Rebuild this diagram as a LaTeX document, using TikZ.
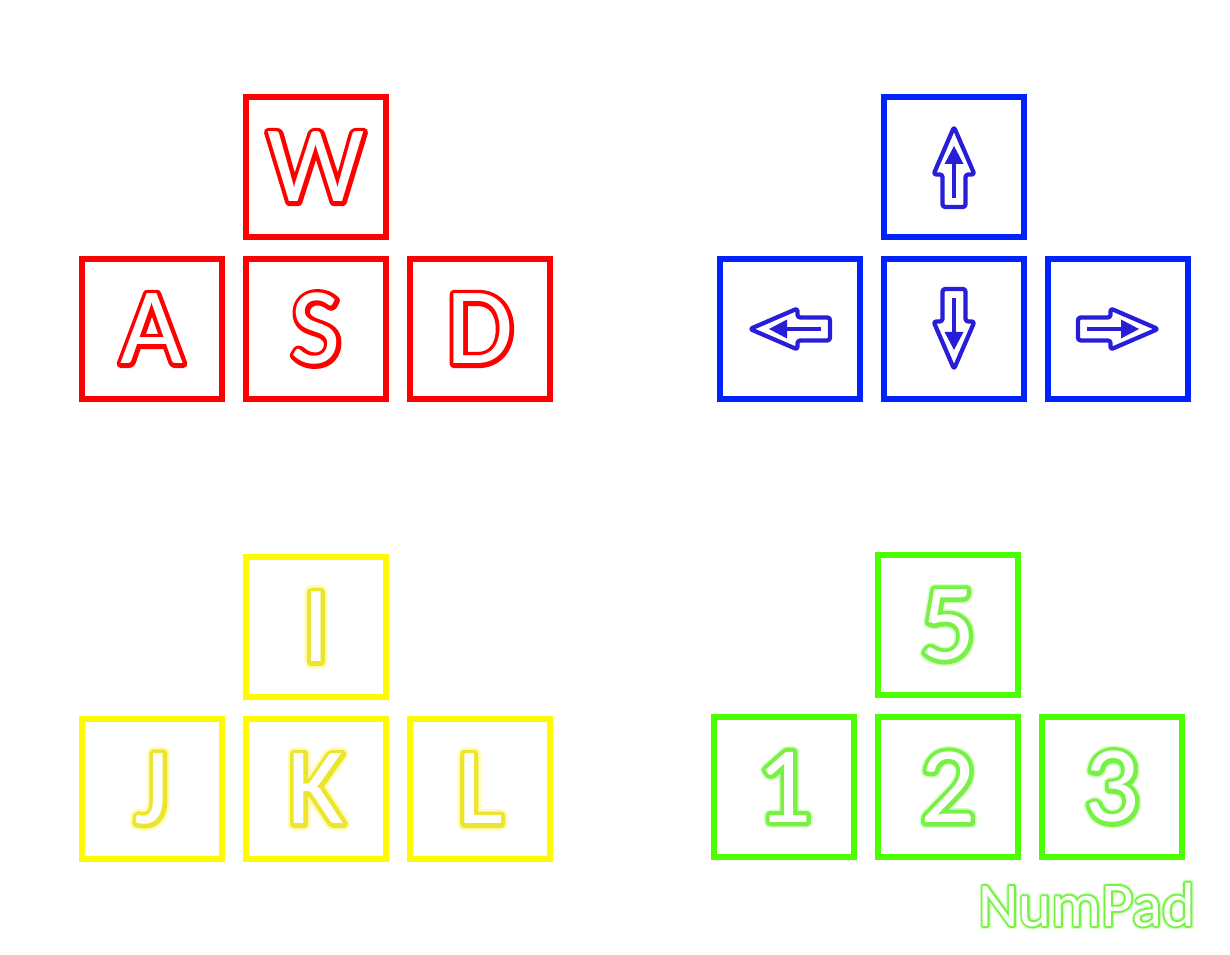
\documentclass[tikz,border=0pt]{standalone}
\usepackage{fontspec}
\usetikzlibrary{positioning}

\newfontfamily\keyfont{Carlito}

\definecolor{wasdred}{RGB}{255,0,0}
\definecolor{arrowblue}{RGB}{0,34,255}
\definecolor{arrowink}{RGB}{40,30,215}
\definecolor{ijklyellow}{RGB}{255,250,0}
\definecolor{ijklink}{RGB}{236,228,45}
\definecolor{ijklglow}{RGB}{255,252,185}
\definecolor{numgreen}{RGB}{76,255,0}
\definecolor{numink}{RGB}{120,240,70}
\definecolor{numglow}{RGB}{215,255,200}

% glyphs stroked (fill+stroke) in a colour, then the plain glyph in white on top
\newcommand{\strokedtext}[3]{\rlap{\textcolor{#2}{\special{pdf:literal direct 2 Tr #1 w 1 j 0 J}#3\special{pdf:literal direct 0 Tr}}}}
\newcommand{\hollowkey}[3][4.8]{\strokedtext{#1}{#2}{#3}\textcolor{white}{#3}}
\newcommand{\glowkey}[5]{\strokedtext{#1}{#4}{#5}\hollowkey[#2]{#3}{#5}}

\begin{document}
\begin{tikzpicture}[
    node distance=0.32cm and 0.36cm,
    key/.style={draw,line width=0.12cm,minimum size=2.8cm,inner sep=0pt,
      font=\keyfont\fontsize{62}{62}\selectfont},
    arrowbody/.style={draw=arrowink,line width=0.085cm,rounded corners=1.5pt,line join=round},
    arrowshaft/.style={draw=arrowink,line width=0.09cm}
  ]
  \useasboundingbox (0,0) rectangle (24.6,19.08);

  % WASD
  \node (W) [key,draw=wasdred] at (6.32,15.74) {\hollowkey{wasdred}{W}};
  \node (S) [key,draw=wasdred,below=of W] {\hollowkey{wasdred}{S}};
  \node (A) [key,draw=wasdred,left=of S]  {\hollowkey{wasdred}{A}};
  \node (D) [key,draw=wasdred,right=of S] {\hollowkey{wasdred}{D}};

  % arrow keys
  \node (Up)    [key,draw=arrowblue] at (19.08,15.74) {};
  \node (Down)  [key,draw=arrowblue,below=of Up] {};
  \node (Left)  [key,draw=arrowblue,left=of Down] {};
  \node (Right) [key,draw=arrowblue,right=of Down] {};
  \foreach \k/\r in {Up/0,Left/90,Down/180,Right/-90}{
    \begin{scope}[shift={(\k.center)},rotate=\r]
      \draw[arrowbody] (0,0.80) -- (0.41,-0.15) -- (0.23,-0.15) -- (0.23,-0.80)
        -- (-0.23,-0.80) -- (-0.23,-0.15) -- (-0.41,-0.15) -- cycle;
      \draw[arrowshaft] (0,-0.62) -- (0,0.10);
      \fill[arrowink] (0,0.42) -- (0.19,0.06) -- (-0.19,0.06) -- cycle;
    \end{scope}
  }

  % IJKL
  \node (I) [key,draw=ijklyellow] at (6.32,6.54) {\glowkey{7.6}{4.8}{ijklink}{ijklglow}{I}};
  \node (K) [key,draw=ijklyellow,below=of I] {\glowkey{7.6}{4.8}{ijklink}{ijklglow}{K}};
  \node (J) [key,draw=ijklyellow,left=of K]  {\glowkey{7.6}{4.8}{ijklink}{ijklglow}{J}};
  \node (L) [key,draw=ijklyellow,right=of K] {\glowkey{7.6}{4.8}{ijklink}{ijklglow}{L}};

  % numpad
  \node (N5) [key,draw=numgreen] at (18.96,6.58) {\glowkey{6.6}{4.8}{numink}{numglow}{5}};
  \node (N2) [key,draw=numgreen,below=of N5] {\glowkey{6.6}{4.8}{numink}{numglow}{2}};
  \node (N1) [key,draw=numgreen,left=of N2]  {\glowkey{6.6}{4.8}{numink}{numglow}{1}};
  \node (N3) [key,draw=numgreen,right=of N2] {\glowkey{6.6}{4.8}{numink}{numglow}{3}};
  \node (numpad) [anchor=base,font=\keyfont\fontsize{35.5}{36}\selectfont] at (21.73,0.56)
    {\glowkey{3.6}{2.2}{numink}{numglow}{NumPad}};
\end{tikzpicture}
\end{document}
